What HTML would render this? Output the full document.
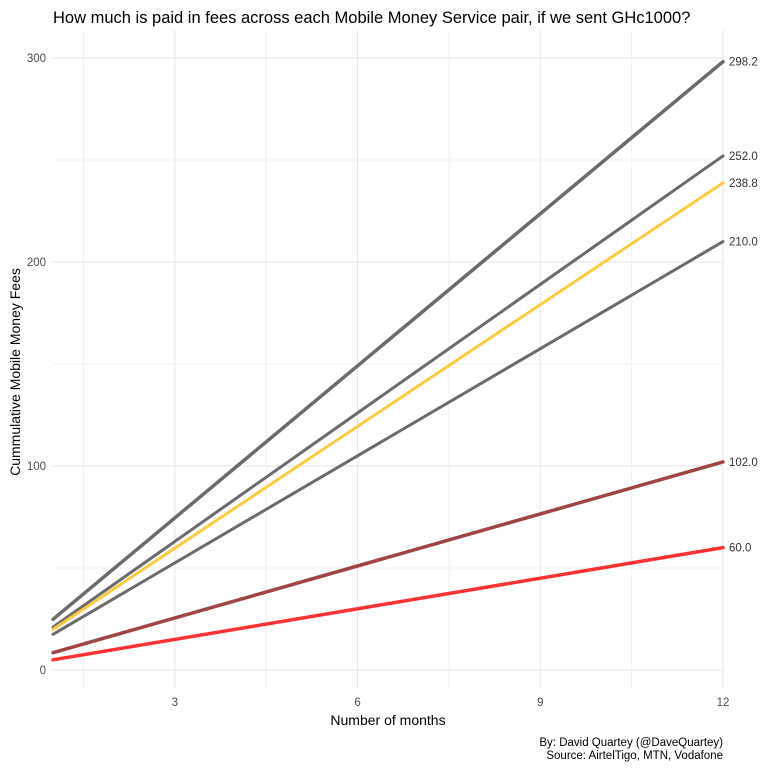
<!DOCTYPE html>
<html><head><meta charset="utf-8"><style>
body{margin:0;background:#fff;width:768px;height:768px;overflow:hidden;font-family:"Liberation Sans",sans-serif}
</style></head><body>
<svg id="chart" width="768" height="768" xmlns="http://www.w3.org/2000/svg" font-family="Liberation Sans, sans-serif">
<text x="53" y="23" font-size="16.5" fill="#000">How much is paid in fees across each Mobile Money Service pair, if we sent GHc1000?</text>
<g id="grid"></g>
<g id="series"></g>
<g id="labels"></g>
<text x="388" y="725" font-size="14" text-anchor="middle" fill="#000">Number of months</text>
<text transform="translate(20,372) rotate(-90)" font-size="14" text-anchor="middle" fill="#000">Cummulative Mobile Money Fees</text>
<text x="723" y="746" font-size="11.5" text-anchor="end" fill="#000">By: David Quartey (@DaveQuartey)</text>
<text x="723" y="759" font-size="11.5" text-anchor="end" fill="#000">Source: AirtelTigo, MTN, Vodafone</text>
</svg>
<script>
const months=[1,12];
const finals=[298.2,252.0,238.8,210.0,102.0,60.0];
const seriesNames=['pair-a','pair-b','pair-c','pair-d','pair-e','pair-f'];
const colors=['#6b6b6b','#6b6b6b','#ffc845','#6b6b6b','#a04444','#ff3333'];
const widths=[3.5,3,3,3,3.5,3.5];
const xTicks=[3,6,9,12];
const yTicks=[0,100,200,300];
const NS='http://www.w3.org/2000/svg';
function X(m){return 53+(m-1)*(723-53)/11;}
function Y(v){return 670-v*2.04;}
function mk(tag,attrs,parent){const e=document.createElementNS(NS,tag);for(const k in attrs)e.setAttribute(k,attrs[k]);parent.appendChild(e);return e;}
const grid=document.getElementById('grid'),ser=document.getElementById('series'),lab=document.getElementById('labels');
[50,150,250].forEach(v=>{const l=mk('line',{x1:53,x2:723,y1:Y(v),y2:Y(v),stroke:'#f0f0f0','stroke-width':1},grid);});
[1.5,4.5,7.5,10.5].forEach(v=>{const l=mk('line',{x1:X(v),x2:X(v),y1:30,y2:688,stroke:'#f0f0f0','stroke-width':1},grid);});
yTicks.forEach(v=>{const l=mk('line',{x1:53,x2:723,y1:Y(v),y2:Y(v),stroke:'#e6e6e6','stroke-width':1},grid);
const t=mk('text',{x:46,y:Y(v)+4,'font-size':11.5,fill:'#4d4d4d','text-anchor':'end'},grid);t.textContent=v;});
xTicks.forEach(v=>{const l=mk('line',{x1:X(v),x2:X(v),y1:30,y2:688,stroke:'#e6e6e6','stroke-width':1},grid);
const t=mk('text',{x:X(v),y:706,'font-size':11.5,fill:'#4d4d4d','text-anchor':'middle'},grid);t.textContent=v;});
finals.forEach((f,i)=>{const per=f/12;
const l=mk('line',{x1:X(months[0]),y1:Y(per*months[0]),x2:X(months[1]),y2:Y(per*months[1]),stroke:colors[i],'stroke-width':widths[i],'stroke-linecap':'round'},ser);

const t=mk('text',{x:729,y:Y(f)+4,'font-size':11.5,fill:'#333'},lab);t.textContent=f.toFixed(1);
});
</script>
</body></html>
